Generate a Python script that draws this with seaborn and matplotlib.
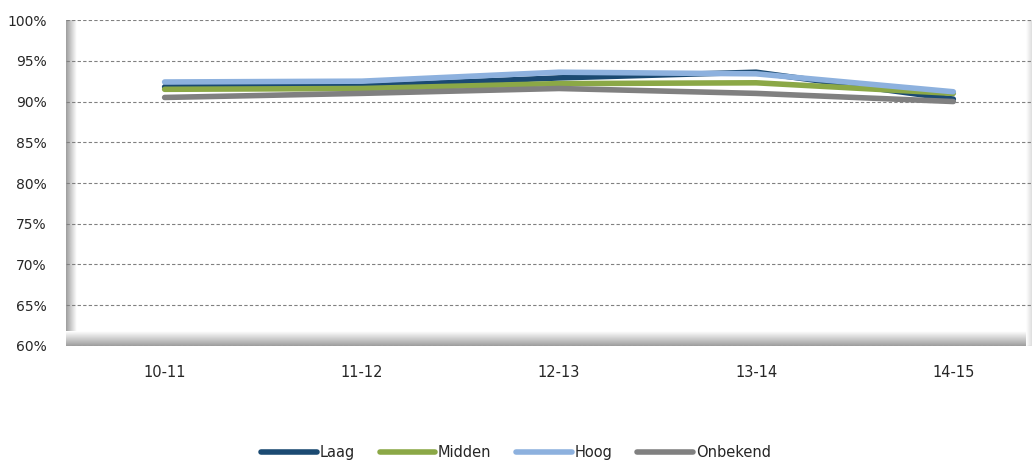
import pandas as pd
import numpy as np
import matplotlib.pyplot as plt
import seaborn as sns

sns.set_theme(style="white")
plt.rcParams['font.family'] = ['DejaVu Sans']

# ------------------------------------------------------------
# DATA
# ------------------------------------------------------------
jaren = ["10-11", "11-12", "12-13", "13-14", "14-15"]
laag = [91.8, 91.9, 92.9, 93.6, 90.3]
midden = [91.5, 91.6, 92.2, 92.3, 91.0]
hoog = [92.4, 92.5, 93.6, 93.4, 91.2]
onbekend = [90.5, 91.0, 91.6, 91.0, 90.0]

reeksen = ["Laag", "Midden", "Hoog", "Onbekend"]
kleuren = ["#1B4A72", "#8BA846", "#8DB1DE", "#808080"]

df = pd.DataFrame({
    "Jaar": jaren * 4,
    "Groep": np.repeat(reeksen, len(jaren)),
    "Waarde": laag + midden + hoog + onbekend,
})

# ------------------------------------------------------------
# PLOT
# ------------------------------------------------------------
fig = plt.figure(figsize=(10.32, 4.61), dpi=100)
ax = fig.add_axes([0.064, 0.2495, 0.94, 0.707])

# bevel shadow of the plot area (left, bottom, right)
grad_l = np.linspace(0.62, 1.0, 50).reshape(1, -1)
ax.imshow(grad_l, cmap="gray", vmin=0, vmax=1, aspect="auto",
          extent=[0, 0.011, 0, 1], transform=ax.transAxes, zorder=0)
grad_b = np.linspace(1.0, 0.62, 50).reshape(-1, 1)
ax.imshow(grad_b, cmap="gray", vmin=0, vmax=1, aspect="auto",
          extent=[0, 1, 0, 0.045], transform=ax.transAxes, zorder=0)
grad_r = np.linspace(1.0, 0.78, 50).reshape(1, -1)
ax.imshow(grad_r, cmap="gray", vmin=0, vmax=1, aspect="auto",
          extent=[0.99, 1.0, 0, 1], transform=ax.transAxes, zorder=0)

sns.lineplot(data=df, x="Jaar", y="Waarde", hue="Groep", hue_order=reeksen,
             palette=kleuren, linewidth=4.0, sort=False, ax=ax, zorder=3)
for line in ax.get_lines():
    line.set_solid_capstyle("round")

ax.set_xlim(-0.5, 4.42)
ax.set_ylim(60, 100)
ax.set_yticks(range(60, 101, 5))
ax.set_yticklabels([f"{v}%" for v in range(60, 101, 5)], fontsize=10)
ax.tick_params(axis="x", labelsize=10.5, pad=8)
ax.tick_params(axis="y", pad=8)
ax.set_xlabel("")
ax.set_ylabel("")

for v in range(60, 101, 5):
    ax.axhline(v, color="#808080", linestyle=(0, (3, 2)), linewidth=0.8, zorder=1)

for s in ax.spines.values():
    s.set_visible(False)

handles, labels = ax.get_legend_handles_labels()
ax.get_legend().remove()
fig.legend(handles, labels, loc="lower center", bbox_to_anchor=(0.5, -0.027),
           ncol=4, frameon=False, fontsize=10.5, handlelength=3.8,
           handletextpad=0.2, columnspacing=1.7)

fig.savefig("out.png", dpi=100)
